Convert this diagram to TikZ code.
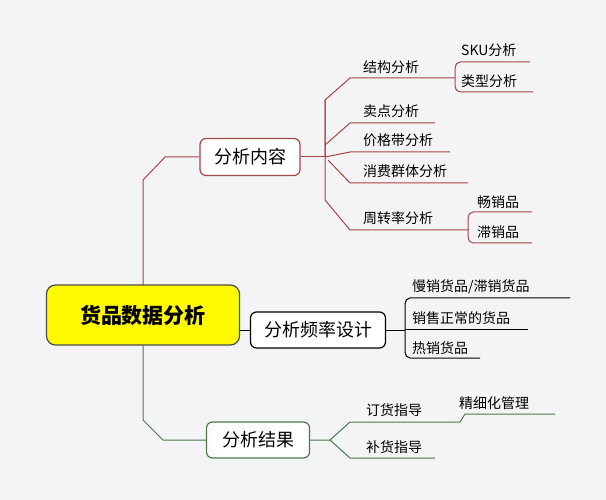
\documentclass[tikz,border=0pt]{standalone}
\usepackage{fontspec}
\setmainfont{Noto Sans CJK SC}
\definecolor{bg}{RGB}{244,244,246}
\definecolor{rl}{RGB}{165,70,70}
\definecolor{gl}{RGB}{70,125,70}
\definecolor{yl}{RGB}{255,250,0}
\begin{document}
\begin{tikzpicture}[x=1pt,y=-1pt,
  box/.style={draw,rounded corners=6pt,line width=1.2pt,fill=white,inner sep=0pt,font=\fontsize{18}{18}\selectfont},
  lbl/.style={font=\fontsize{14}{14}\selectfont,inner sep=0pt,anchor=west},
  rline/.style={rl,line width=1pt},
  gline/.style={gl,line width=1pt},
  kline/.style={black,line width=1pt}]
\fill[bg] (0,0) rectangle (606,500);
\useasboundingbox (0,0) rectangle (606,500);
% root
\node[box,draw=black!70,fill=yl,minimum width=193pt,minimum height=60pt,rounded corners=9pt,font=\fontsize{21}{21}\selectfont\bfseries] (root) at (143,315) {货品数据分析};
% level 1
\node[box,draw=rl,minimum width=100pt,minimum height=37pt] (a) at (250,157) {分析内容};
\node[box,draw=black,minimum width=135pt,minimum height=36pt] (b) at (318,330) {分析频率设计};
\node[box,draw=gl,minimum width=103pt,minimum height=36pt] (c) at (258,440) {分析结果};
\coordinate (ra) at (143,285);
\coordinate (rc) at (143,345);
\draw[rline] (ra) -- (143,180) -- (165,157) -- (a.west);
\draw[kline] (root.east |- b) -- (b.west);
\draw[gline] (rc) -- (143,420) -- (163,440) -- (c.west);
% branch a
\coordinate (ha) at (325,157);
\draw[rline] (a.east) -- (ha);
\draw[rline] (ha) -- (325,100) -- (350,78) -- (455,78);
\draw[rline] (325,100) -- (325,200) -- (350,230) -- (468,230);
\draw[rline] (325,145) -- (350,123) -- (435,123);
\draw[rline] (ha) -- (350,152) -- (450,152);
\draw[rline] (328,160) -- (350,183) -- (468,183);
\node[lbl] (a1) at (363,67) {结构分析};
\node[lbl] (a2) at (363,111) {卖点分析};
\node[lbl] (a3) at (363,140) {价格带分析};
\node[lbl] (a4) at (363,171) {消费群体分析};
\node[lbl] (a5) at (363,218) {周转率分析};
\draw[rline] (530,62) -- (460,62) to[out=180,in=90] (455,68) -- (455,86) to[out=-90,in=180] (460,92) -- (533,92);
\node[lbl] (a11) at (461,50) {SKU分析};
\node[lbl] (a12) at (461,81) {类型分析};
\draw[rline] (532,212) -- (473,212) to[out=180,in=90] (468,218) -- (468,237) to[out=-90,in=180] (473,243) -- (532,243);
\node[lbl] (a51) at (477,202) {畅销品};
\node[lbl] (a52) at (477,232) {滞销品};
% branch b
\draw[kline] (b.east) -- (405,330);
\draw[kline] (570,298) -- (410,298) to[out=180,in=90] (405,304) -- (405,352) to[out=-90,in=180] (410,358) -- (480,358);
\draw[kline] (405,329) -- (528,329);
\node[lbl] (b1) at (412,287) {慢销货品/滞销货品};
\node[lbl] (b2) at (412,318) {销售正常的货品};
\node[lbl] (b3) at (412,348) {热销货品};
% branch c
\coordinate (hc) at (330,440);
\draw[gline] (c.east) -- (hc) -- (350,422) -- (460,422) -- (465,414) -- (555,414);
\draw[gline] (hc) -- (350,458) -- (435,458);
\node[lbl] (c1) at (366,410) {订货指导};
\node[lbl] (c11) at (459,403) {精细化管理};
\node[lbl] (c2) at (366,447) {补货指导};
\end{tikzpicture}
\end{document}
